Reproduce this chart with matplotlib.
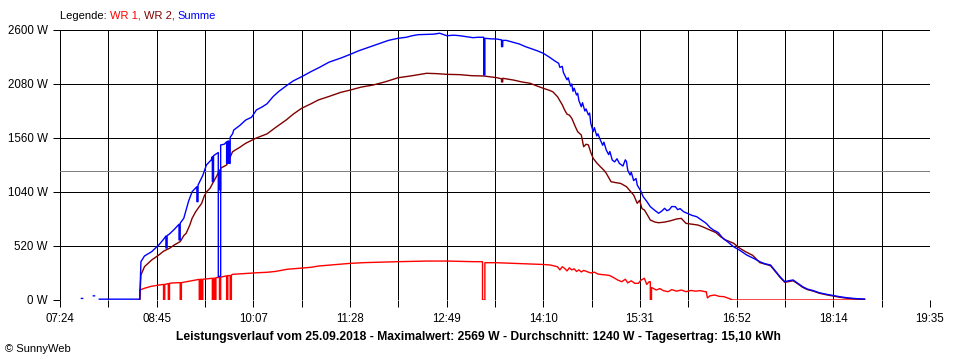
import numpy as np
import matplotlib
matplotlib.use("Agg")
import matplotlib.pyplot as plt

nan = np.nan
# ---- data (minutes after midnight, Watts); repeated times give vertical drops ----
sum_t = [462, 463, 464, 472, 473, 474, 477, 511, 512, 515, 521, 527, 531, 533, 533, 534, 534, 536, 540, 544,
         544, 545, 545, 548, 550, 552, 555, 559, 559, 560, 560, 564, 567, 571, 572, 572, 573, 573, 576, 577,
         577, 579, 579, 582, 584, 584, 585, 585, 586, 586, 587, 587, 589, 590, 595, 600, 605, 609, 614, 618,
         623, 628, 635, 640, 647, 655, 662, 670, 680, 688, 695, 700, 707, 715, 720, 728, 735, 740, 745, 752,
         758, 763, 769, 775, 780, 786, 791, 795, 800, 800, 801, 801, 806, 811, 815, 815, 816, 816, 819, 825,
         830, 835, 839, 845, 850, 855, 860, 863, 864, 866, 867, 868, 870, 871, 873, 874, 875, 876, 878, 879,
         880, 882, 883, 885, 886, 888, 889, 890, 892, 893, 895, 896, 898, 900, 901, 903, 905, 906, 908, 910,
         912, 914, 917, 919, 920, 921, 923, 924, 926, 928, 929, 932, 934, 937, 940, 943, 947, 950, 952, 954,
         956, 958, 961, 963, 965, 968, 971, 975, 979, 983, 987, 990, 993, 997, 1001, 1005, 1010, 1015, 1021, 1027,
         1032, 1036, 1041, 1045, 1049, 1053, 1056, 1060, 1064, 1068, 1072, 1077, 1082, 1088, 1094, 1099, 1105,
         1110, 1115, 1120]
sum_w = [15, 15, nan, 40, 40, nan, 8, 8, 369, 424, 465, 530, 584, 616, 500, 500, 620, 636, 680, 729,
         578, 578, 740, 787, 867, 950, 1043, 1091, 947, 947, 1107, 1200, 1300, 1348, 1380, 1139, 1139, 1390, 1413, 1420,
         224, 230, 1493, 1500, 1524, 1316, 1316, 1530, 1530, 1316, 1316, 1567, 1600, 1637, 1680, 1733, 1760, 1830, 1860, 1890,
         1958, 2010, 2070, 2110, 2150, 2200, 2240, 2290, 2330, 2366, 2400, 2420, 2449, 2480, 2500, 2520, 2530, 2545, 2555, 2558,
         2560, 2569, 2545, 2550, 2545, 2535, 2526, 2530, 2530, 2167, 2167, 2520, 2515, 2513, 2505, 2440, 2440, 2500, 2500, 2481,
         2465, 2440, 2424, 2400, 2376, 2340, 2300, 2279, 2240, 2250, 2190, 2167, 2120, 2140, 2060, 2080, 2010, 2040, 1974, 1990,
         1920, 1861, 1900, 1820, 1840, 1782, 1800, 1700, 1621, 1660, 1580, 1600, 1541, 1490, 1520, 1444, 1400, 1430, 1348, 1330,
         1360, 1316, 1290, 1350, 1332, 1250, 1204, 1230, 1150, 1170, 1107, 1050, 995, 950, 899, 870, 835, 860, 883, 860,
         870, 900, 899, 870, 880, 850, 835, 815, 802, 770, 738, 700, 674, 650, 594, 560, 513, 480, 433, 400,
         369, 350, 337, 280, 224, 176, 185, 193, 160, 128, 105, 90, 70, 55, 42, 32, 22,
         16, 12, 10]

wr2_t = [511, 512, 515, 521, 527, 531, 536, 540, 545, 548, 550, 553, 555, 558, 560, 563, 565, 567, 570, 573,
         576, 578, 578, 579, 579, 584, 589, 595, 600, 609, 618, 625, 634, 640, 647, 655, 661, 670, 680, 688,
         697, 707, 717, 728, 740, 752, 760, 769, 780, 790, 800, 811, 815, 815, 816, 816, 825, 832, 839, 845,
         850, 855, 858, 862, 864, 866, 868, 870, 872, 874, 877, 879, 882, 884, 886, 888, 890, 892, 895, 898,
         901, 903, 905, 907, 911, 915, 920, 923, 926, 929, 931, 933, 935, 937, 940, 944, 947, 952, 957, 962,
         966, 970, 975, 980, 985, 990, 995, 999, 1003, 1010, 1015, 1020, 1026, 1032, 1041, 1045, 1049, 1053,
         1060, 1064, 1068, 1072, 1077, 1082, 1088, 1094, 1099, 1105, 1110, 1115, 1120]
wr2_w = [0, 241, 321, 385, 433, 470, 498, 530, 562, 620, 642, 720, 787, 850, 883, 930, 995, 1040, 1075, 1139,
         1200, 1252, 1060, 1060, 1270, 1300, 1428, 1470, 1509, 1560, 1600, 1660, 1733, 1790, 1846, 1890, 1926, 1960, 2000, 2022,
         2050, 2070, 2100, 2140, 2160, 2183, 2180, 2173, 2170, 2160, 2157, 2141, 2130, 2100, 2100, 2135, 2118, 2100, 2087, 2060,
         2039, 2020, 2006, 1958, 1920, 1880, 1830, 1790, 1780, 1750, 1669, 1620, 1589, 1476, 1500, 1493, 1420, 1364, 1320, 1284,
         1250, 1220, 1180, 1139, 1130, 1123, 1091, 1050, 1011, 931, 960, 880, 867, 830, 770, 750, 744, 750, 763, 780,
         786, 738, 730, 722, 700, 674, 650, 610, 580, 546, 500, 465, 430, 360, 330, 275, 218, 170,
         185, 155, 122, 100, 85, 65, 50, 37, 27, 17, 12, 8, 5]

wr1_t = [510, 511, 511, 515, 520, 527, 531, 531, 532, 532, 535, 535, 536, 536, 540, 545, 545, 546, 546, 550,
         555, 561, 561, 562, 562, 563, 563, 564, 564, 570, 572, 572, 573, 573, 574, 574, 575, 575, 578, 578,
         579, 579, 584, 584, 585, 585, 587, 587, 588, 588, 589, 600, 609, 618, 625, 635, 645, 655, 661, 675,
         688, 700, 715, 728, 740, 752, 770, 780, 791, 799, 799, 801, 801, 811, 825, 839, 850, 856, 862, 864,
         866, 868, 870, 872, 874, 876, 878, 880, 882, 884, 887, 890, 893, 896, 899, 903, 906, 910, 913, 916,
         919, 921, 924, 927, 930, 932, 935, 937, 939, 940, 940, 941, 941, 945, 948, 951, 955, 958, 962, 966,
         970, 974, 978, 982, 986, 987, 988, 990, 994, 998, 1002, 1008, 1009, 1120]
wr1_w = [0, 0, 96, 113, 130, 144, 150, 0, 0, 150, 158, 0, 0, 161, 165, 167, 0, 0, 167, 175,
         186, 199, 0, 0, 199, 199, 0, 0, 200, 207, 209, 0, 0, 210, 210, 0, 0, 215, 218, 0,
         0, 220, 233, 0, 0, 235, 236, 0, 0, 240, 247, 255, 262, 267, 275, 296, 305, 315, 327, 340,
         353, 360, 365, 369, 372, 375, 375, 372, 369, 369, 0, 0, 359, 359, 353, 347, 342, 337, 320, 290,
         320, 305, 280, 310, 290, 300, 275, 290, 270, 285, 273, 260, 268, 250, 245, 241, 235, 210, 190, 176,
         200, 165, 185, 160, 161, 190, 209, 150, 176, 176, 0, 0, 120, 96, 110, 90, 80, 100, 85, 96,
         80, 92, 85, 90, 80, 80, 20, 40, 48, 35, 32, 6, 0, 0]

x_labels = ["07:24", "08:45", "10:07", "11:28", "12:49", "14:10", "15:31", "16:52", "18:14", "19:35"]
y_ticks = [0, 520, 1040, 1560, 2080, 2600]
x_start, x_end = 444, 1175
average_w = 1240

title = ("Leistungsverlauf vom 25.09.2018 - Maximalwert: 2569 W - Durchschnitt: 1240 W - "
         "Tagesertrag: 15,10 kWh")

# ---- figure ----
plt.rcParams['font.family'] = ['Liberation Sans', 'DejaVu Sans']
fig = plt.figure(figsize=(9.6, 3.6), dpi=100)
ax = fig.add_axes([60 / 960, 60 / 360, 870 / 960, 270 / 360])

ax.set_xlim(x_start, x_end)
ax.set_ylim(0, 2600)

LW = 0.72  # one pixel at 100 dpi
DLW = 1.0
grid_x = np.linspace(x_start, x_end, 19)
for gx in grid_x:
    ax.axvline(gx, color='black', lw=LW, antialiased=False, zorder=1)
for gy in y_ticks:
    ax.axhline(gy, color='black', lw=LW, antialiased=False, zorder=1)
ax.axhline(average_w, color='#808080', lw=LW, antialiased=False, zorder=1)

ax.plot(wr1_t, wr1_w, color='#ff0000', lw=DLW, antialiased=True, zorder=3)
ax.plot(wr2_t, wr2_w, color='#800000', lw=DLW, antialiased=True, zorder=4)
ax.plot(sum_t, sum_w, color='#0000ff', lw=DLW, antialiased=True, zorder=5)

for s in ax.spines.values():
    s.set_visible(False)

ax.set_xticks(grid_x)
ax.set_xticklabels([x_labels[i // 2] if i % 2 == 0 else "" for i in range(19)])
ax.set_yticks(y_ticks)
ax.set_yticklabels([f"{v} W" for v in y_ticks])
ax.tick_params(axis='both', direction='out', length=5, width=LW, color='black',
               labelsize=8.3, pad=4)

fig.text(478 / 960, 1 - 337 / 360, title, ha='center', va='center', fontsize=8.7, fontweight='bold')
fig.text(5 / 960, 1 - 349 / 360, "\u00a9 SunnyWeb", ha='left', va='center', fontsize=8)

# legend as coloured text pieces
renderer = fig.canvas.get_renderer()
parts = [("Legende: ", 'black'), ("WR 1, ", '#ff0000'), ("WR 2, ", '#800000'), ("Summe", '#0000ff')]
xpix = 60
for txt, col in parts:
    t = fig.text(xpix / 960, 1 - 16 / 360, txt, ha='left', va='center', fontsize=8, color=col)
    bb = t.get_window_extent(renderer=renderer)
    xpix += bb.width

fig.savefig("out.png", dpi=100, facecolor='white')
